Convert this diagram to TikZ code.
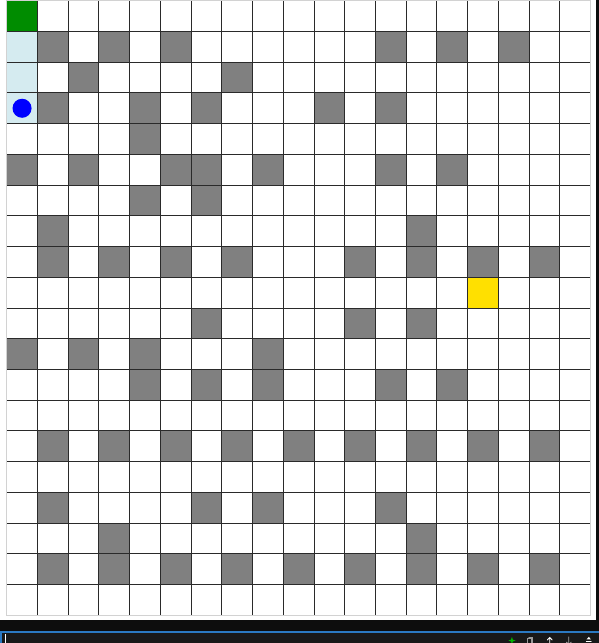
\documentclass[tikz,border=0pt]{standalone}
\usepackage{tikz}
\usetikzlibrary{arrows.meta}
\definecolor{wallgrey}{HTML}{808080}
\definecolor{startgreen}{HTML}{008C00}
\definecolor{pathblue}{HTML}{D5EBF0}
\definecolor{goalgold}{HTML}{FFE000}
\definecolor{gridline}{HTML}{2A2A2A}
\definecolor{panelblack}{HTML}{0D0D0D}
\definecolor{inputgrey}{HTML}{181818}
\definecolor{focusblue}{HTML}{2B79C2}
\tikzset{
  wall/.style={fill=wallgrey},
  cellline/.style={gridline,line width=0.75pt},
  borderline/.style={gray!35,line width=0.75pt},
  agent/.style={fill=blue},
  iconline/.style={line width=0.6pt,line cap=round}
}

\begin{document}
\begin{tikzpicture}[x=0.8cm,y=-0.8cm]
\useasboundingbox (-0.2175,-0.023) rectangle (19.263,20.899);
% screen around the plot
\fill[white] (-0.2175,-0.023) rectangle (19.166,20.153);
\fill[panelblack] (19.166,-0.023) rectangle (19.263,20.153);
\fill[panelblack] (-0.2175,20.153) rectangle (19.263,20.542);
\fill[inputgrey] (-0.2175,20.542) rectangle (19.263,20.899);
\draw[focusblue,line width=0.8pt] (-0.185,20.899)--(-0.185,20.542)--(19.263,20.542);
\draw[white,line width=0.6pt] (-0.055,20.62)--(-0.055,20.899);
% start, visited, goal
\fill[startgreen] (0,0) rectangle (1,1);
\fill[pathblue] (0,1) rectangle (1,4);
\fill[goalgold] (15,9) rectangle (16,10);
% walls
\foreach \c/\r in {1/1,3/1,5/1,12/1,14/1,16/1,2/2,7/2,1/3,4/3,6/3,10/3,12/3,4/4,
  0/5,2/5,5/5,6/5,8/5,12/5,14/5,4/6,6/6,1/7,13/7,1/8,3/8,5/8,7/8,11/8,13/8,15/8,17/8,
  6/10,11/10,13/10,0/11,2/11,4/11,8/11,4/12,6/12,8/12,12/12,14/12,
  1/16,6/16,8/16,12/16,3/17,13/17}{
  \fill[wall] (\c,\r) rectangle ++(1,1);}
\foreach \r in {14,18}{\foreach \c in {1,3,...,17}{\fill[wall] (\c,\r) rectangle ++(1,1);}}
% grid
\foreach \x in {1,...,18}{\draw[cellline] (\x,0)--(\x,20);}
\foreach \y in {1,...,19}{\draw[cellline] (0,\y)--(19,\y);}
\draw[borderline] (0,0) rectangle (19,20);
\fill[agent] (0.5,3.5) circle (0.31);
% toolbar icons
\fill[green!70!black] (16.44,20.70)--(16.47,20.79)--(16.56,20.82)--(16.47,20.85)--(16.44,20.94)--(16.41,20.85)--(16.32,20.82)--(16.41,20.79)--cycle;
\draw[gray!80,iconline] (16.94,20.76) rectangle (17.06,20.95) (16.99,20.72)--(17.10,20.72)--(17.10,20.90);
\draw[white,iconline] (17.67,20.95)--(17.67,20.72) (17.59,20.80)--(17.67,20.72)--(17.75,20.80);
\draw[gray!70,iconline] (18.29,20.70)--(18.29,20.95) (18.21,20.87)--(18.29,20.95)--(18.37,20.87);
\fill[white] (18.94,20.70)--(19.01,20.78)--(18.87,20.78)--cycle;
\draw[white,iconline] (18.86,20.84)--(19.02,20.84);
\end{tikzpicture}
\end{document}
